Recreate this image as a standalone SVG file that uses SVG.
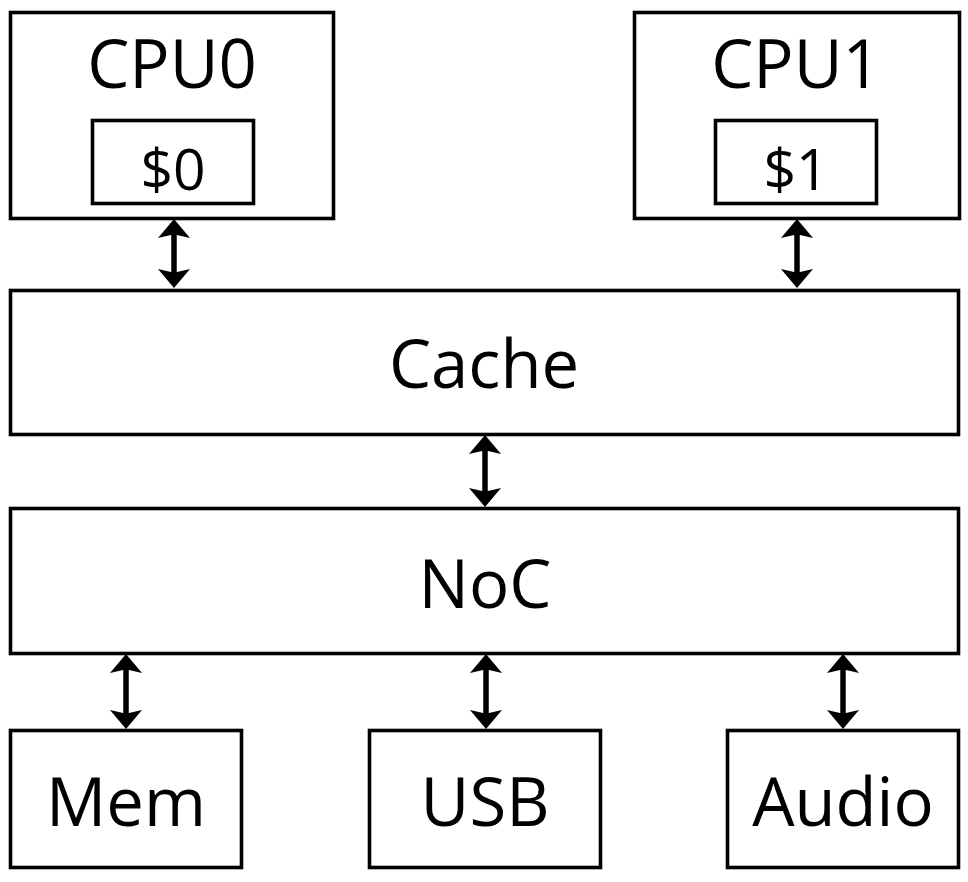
<svg xmlns="http://www.w3.org/2000/svg" width="968" height="882" viewBox="0 0 968 882">
<style>
.box{fill:#fff;stroke:#000;stroke-width:3.6}
.t{font-family:"Open Sans","Noto Sans",sans-serif;fill:#000;text-anchor:middle;font-weight:500}
.big{font-size:67px}
.sm{font-size:57px}
.conn line{stroke:#000;stroke-width:5.5}
.conn path{fill:#000}
</style>
<rect width="968" height="882" fill="#fff"/>
<g id="cpu0">
<rect class="box" x="10.5" y="12.5" width="323" height="206"/>
<text class="t big" x="172" y="88">CPU0</text>
<g id="cache0">
<rect class="box" x="92.5" y="120.5" width="161" height="83"/>
<text class="t sm" x="173" y="190">$0</text>
</g>
</g>
<g id="cpu1">
<rect class="box" x="634.5" y="12.5" width="325" height="206"/>
<text class="t big" x="796" y="88">CPU1</text>
<g id="cache1">
<rect class="box" x="715.5" y="120.5" width="161" height="83"/>
<text class="t sm" x="796" y="190">$1</text>
</g>
</g>
<g id="cache">
<rect class="box" x="10.5" y="290.5" width="948" height="144"/>
<text class="t big" x="484" y="388">Cache</text>
</g>
<g id="noc">
<rect class="box" x="10.5" y="508.5" width="948" height="145"/>
<text class="t big" x="485" y="608">NoC</text>
</g>
<g id="mem">
<rect class="box" x="10.5" y="730.5" width="231" height="137"/>
<text class="t big" x="126" y="826">Mem</text>
</g>
<g id="usb">
<rect class="box" x="369.5" y="730.5" width="231" height="137"/>
<text class="t big" x="485" y="826">USB</text>
</g>
<g id="audio">
<rect class="box" x="727.5" y="730.5" width="231" height="137"/>
<text class="t big" x="843" y="826">Audio</text>
</g>
<g class="conn" id="connectors">
<defs>
<path id="up" d="M0 0 L16 19 L3 16 L-3 16 L-16 19 Z"/>
<path id="dn" d="M0 0 L16 -19 L3 -16 L-3 -16 L-16 -19 Z"/>
</defs>
<line x1="174" y1="230" x2="174" y2="277"/>
<use href="#up" x="174" y="219"/><use href="#dn" x="174" y="288"/>
<line x1="797" y1="230" x2="797" y2="277"/>
<use href="#up" x="797" y="219"/><use href="#dn" x="797" y="288"/>
<line x1="485" y1="446" x2="485" y2="496"/>
<use href="#up" x="485" y="435"/><use href="#dn" x="485" y="507"/>
<line x1="126" y1="666" x2="126" y2="718"/>
<use href="#up" x="126" y="654"/><use href="#dn" x="126" y="729"/>
<line x1="486" y1="666" x2="486" y2="718"/>
<use href="#up" x="486" y="654"/><use href="#dn" x="486" y="729"/>
<line x1="843" y1="666" x2="843" y2="718"/>
<use href="#up" x="843" y="654"/><use href="#dn" x="843" y="729"/>
</g>
</svg>
